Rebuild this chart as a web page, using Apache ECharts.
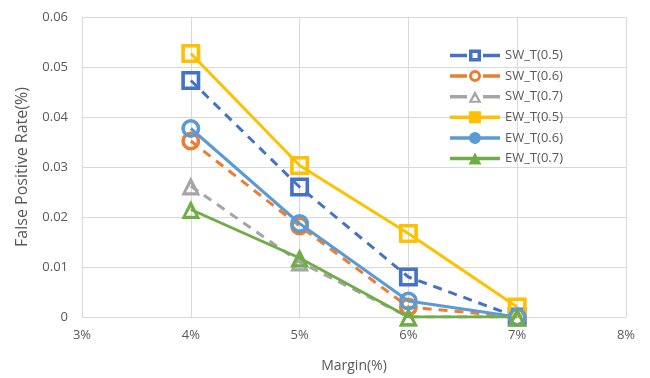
<!DOCTYPE html>
<html><head><meta charset="utf-8">
<script src="https://cdn.jsdelivr.net/npm/echarts@6/dist/echarts.min.js"></script>
<style>html,body{margin:0;padding:0;background:#fff}#c{width:650px;height:378px}</style>
</head><body><div id="c"></div>
<script>
const margins = [4, 5, 6, 7];
const xTicks = [3, 4, 5, 6, 7, 8];
const yTicks = [0, 0.01, 0.02, 0.03, 0.04, 0.05, 0.06];
const seriesNames = ['SW_T(0.5)', 'SW_T(0.6)', 'SW_T(0.7)', 'EW_T(0.5)', 'EW_T(0.6)', 'EW_T(0.7)'];
const sw05 = [0.0473, 0.0260, 0.0080, 0.0];
const sw06 = [0.0352, 0.0182, 0.0020, 0.0];
const sw07 = [0.0262, 0.0110, 0.0, 0.0];
const ew05 = [0.0527, 0.0303, 0.0167, 0.0020];
const ew06 = [0.0377, 0.0187, 0.0032, 0.0];
const ew07 = [0.0215, 0.0118, 0.0, 0.0];

const colors = ['#4472C4', '#ED7D31', '#A5A5A5', '#FFC000', '#5B9BD5', '#70AD47'];
// hollow marker shapes (ring paths so the line shows through, like the reference)
const SQ = 'path://M0,0H20V20H0Z M3.8,3.8V16.2H16.2V3.8Z';
const CI = 'path://M10,0A10,10,0,1,1,10,20A10,10,0,1,1,10,0Z M10,3.8A6.2,6.2,0,1,0,10,16.2A6.2,6.2,0,1,0,10,3.8Z';
const TR = 'path://M10,0L20,18L0,18Z M10,6.8L5,15H15Z';
const symbols = [SQ, CI, TR, SQ, CI, TR];
// legend icons: line + marker
const LSEG = 'M0,4.25H17V7.75H0Z M33,4.25H50V7.75H33Z ';
const LFULL = 'M0,4.25H50V7.75H0Z ';
const legendIcons = [
  'path://' + LSEG + 'M19,0H31V12H19Z M22.5,3.5V8.5H27.5V3.5Z',
  'path://' + LSEG + 'M25,0A6,6,0,1,1,25,12A6,6,0,1,1,25,0Z M25,3A3,3,0,1,0,25,9A3,3,0,1,0,25,3Z',
  'path://' + LSEG + 'M25,0L31.5,12H18.5Z M25,5.2L22,10H28Z',
  'path://' + LFULL + 'M19,0H31V12H19Z',
  'path://' + LFULL + 'M25,0A6,6,0,1,1,25,12A6,6,0,1,1,25,0Z',
  'path://' + LFULL + 'M25,0L31.5,12H18.5Z'
];
const dataSets = [sw05, sw06, sw07, ew05, ew06, ew07];
const textColor = '#595959';
const font = 'Open Sans';

const series = dataSets.map((vals, i) => ({
  name: seriesNames[i],
  type: 'line',
  data: margins.map((m, j) => [m, vals[j]]),
  symbol: symbols[i],
  symbolSize: 19,
  color: colors[i],
  lineStyle: { width: 3, type: i < 3 ? [9, 7] : 'solid', color: colors[i] },
  itemStyle: { color: colors[i], borderWidth: 0 },
  z: i < 3 ? 2 : 3
}));

const chart = echarts.init(document.getElementById('c'), null, { renderer: 'canvas' });
chart.setOption({
  animation: false,
  grid: { left: 82, right: 24, top: 17, bottom: 61 },
  legend: {
    orient: 'vertical',
    left: 445, top: 44,
    itemWidth: 50, itemHeight: 12, itemGap: 7.6,
    itemStyle: { borderWidth: 0 },
    textStyle: { color: textColor, fontSize: 13, fontFamily: font },
    data: seriesNames.map((n, i) => ({ name: n, icon: legendIcons[i] }))
  },
  xAxis: {
    type: 'value', min: xTicks[0], max: xTicks[xTicks.length - 1], interval: 1,
    name: 'Margin(%)', nameLocation: 'middle', nameGap: 42,
    nameTextStyle: { color: textColor, fontSize: 14, fontFamily: font },
    axisLine: { show: true, lineStyle: { color: '#D9D9D9', width: 1 } },
    axisTick: { show: false },
    axisLabel: { color: textColor, fontSize: 13, fontFamily: font, margin: 12, formatter: v => v + '%' },
    splitLine: { show: true, lineStyle: { color: '#D9D9D9', width: 1 } }
  },
  yAxis: {
    type: 'value', min: yTicks[0], max: yTicks[yTicks.length - 1], interval: 0.01,
    name: 'False Positive Rate(%)', nameLocation: 'middle', nameGap: 52,
    nameTextStyle: { color: textColor, fontSize: 16, fontFamily: font },
    axisLine: { show: true, lineStyle: { color: '#D9D9D9', width: 1 } },
    axisTick: { show: false },
    axisLabel: { color: textColor, fontSize: 13, fontFamily: font, margin: 14, formatter: v => v === 0 ? '0' : v.toFixed(2) },
    splitLine: { show: true, lineStyle: { color: '#D9D9D9', width: 1 } }
  },
  series: series
});
</script></body></html>
